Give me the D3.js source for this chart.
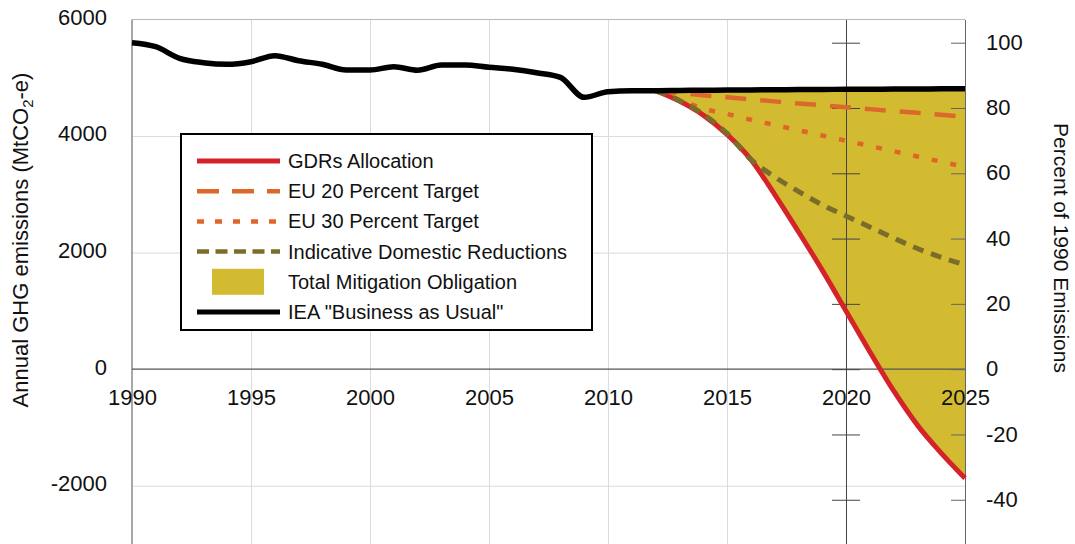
<!DOCTYPE html>
<html>
<head>
<meta charset="UTF-8">
<script src="https://d3js.org/d3.v7.min.js"></script>
<title>GDRs mitigation obligation</title>
<style>
  body { margin: 0; background: #fff; }
  text { font-family: "Liberation Sans", Arial, sans-serif; fill: #111; }
  .grid line { stroke: #dcdcdc; stroke-width: 1; }
  .grid .domain { display: none; }
</style>
</head>
<body>
<div id="chart"></div>
<script>
// historic + IEA business-as-usual, 1990-2025 (MtCO2-e)
var bauYears = [1990,1991,1992,1993,1994,1995,1996,1997,1998,1999,2000,2001,2002,2003,2004,2005,2006,2007,
                2008,2009,2010,2011,2012,2013,2014,2015,2016,2017,2018,2019,2020,2021,2022,2023,2024,2025]
var bau = [5602,5533,5334,5259,5231,5276,5379,5293,5231,5133,5133,5190,5130,5219,5219,5179,5145,5087,
           5007,4664,4761,4778,4778,4782,4786,4789,4792,4795,4798,4800,4802,4804,4806,4808,4810,4812]

// projections 2012-2025
var projYears = [2012,2013,2014,2015,2016,2017,2018,2019,2020,2021,2022,2023,2024,2025]
var gdrs       = [4778,4600,4360,4030,3600,3000,2360,1700,1000,300,-370,-960,-1440,-1870]
var eu20       = [4778,4740,4700,4665,4630,4595,4560,4528,4495,4462,4430,4398,4365,4333]
var eu30       = [4778,4620,4470,4380,4280,4190,4100,4010,3920,3830,3740,3650,3560,3470]
var indicative = [4778,4610,4375,4045,3600,3300,3050,2820,2630,2440,2250,2070,1920,1790]

var xTicks = [1990,1995,2000,2005,2010,2015,2020,2025]
var yTicks = [-2000,0,2000,4000,6000]
var pctTicks = [-40,-20,0,20,40,60,80,100]

var legendLabels = ["GDRs Allocation","EU 20 Percent Target","EU 30 Percent Target",
                    "Indicative Domestic Reductions","Total Mitigation Obligation","IEA \"Business as Usual\""]

var width = 1075, height = 544
var margin = {left:132, right:110, top:19.5, bottom:0}
var w = width - margin.left - margin.right, h = height - margin.top - margin.bottom

var col = {fill:"#d2bb31", red:"#d42429", eu20:"#dc682b", eu30:"#e0652a", olive:"#7b6c2c"}
var plain = function(d){ return String(d) }  // hyphen minus like the original

var x = d3.scaleLinear().domain([1990,2025]).range([0,w])
var y = d3.scaleLinear().domain([-3000,6000]).range([h,0])
var base = bau[0]
var yPct = d3.scaleLinear().domain([-3000/base*100, 6000/base*100]).range([h,0])

var svg = d3.select("#chart").append("svg").attr("width",width).attr("height",height)
var g = svg.append("g").attr("transform","translate("+margin.left+","+margin.top+")")

// light grid
g.append("g").attr("class","grid")
  .call(d3.axisBottom(x).tickValues([1995,2000,2005,2010,2015]).tickSize(h).tickFormat(""))
g.append("g").attr("class","grid")
  .call(d3.axisLeft(y).tickValues([-2000,2000,4000]).tickSize(-w).tickFormat(""))

// borders
g.append("line").attr("x1",0).attr("x2",w).attr("y1",0).attr("y2",0).attr("stroke","#b8b8b8")
g.append("line").attr("x1",0).attr("x2",0).attr("y1",0).attr("y2",h).attr("stroke","#8a8a8a").attr("stroke-width",1.5)

// mitigation area between BAU and GDRs
var proj = projYears.map(function(yr,i){
  return {year:yr, bau:bau[bauYears.indexOf(yr)], gdrs:gdrs[i], eu20:eu20[i], eu30:eu30[i], ind:indicative[i]}
})
var area = d3.area().x(function(d){return x(d.year)})
  .y0(function(d){return y(d.bau)}).y1(function(d){return y(d.gdrs)})
  .curve(d3.curveMonotoneX)
g.append("path").attr("d",area(proj)).attr("fill",col.fill)

// zero line, 2020 axis, right axis lines
g.append("line").attr("x1",0).attr("x2",w).attr("y1",y(0)).attr("y2",y(0)).attr("stroke","#555").attr("stroke-width",1.2)

var mid = g.append("g").attr("transform","translate("+x(2020)+",0)")
mid.append("g").call(d3.axisRight(yPct).tickValues(pctTicks).tickSize(14).tickFormat("").tickSizeOuter(0))
mid.append("g").call(d3.axisLeft(yPct).tickValues(pctTicks).tickSize(14).tickFormat("").tickSizeOuter(0))
mid.selectAll("path,line").attr("stroke","#444").attr("stroke-width",1)

var right = g.append("g").attr("transform","translate("+w+",0)")
  .call(d3.axisRight(yPct).tickValues(pctTicks).tickSize(-14).tickSizeOuter(0).tickPadding(21).tickFormat(plain))
right.selectAll("path,line").attr("stroke","#666").attr("stroke-width",1)
right.selectAll("text").attr("font-size",22).attr("dy","0.3em")

// series lines
function lineOf(key){
  return d3.line().x(function(d){return x(d.year)}).y(function(d){return y(d[key])}).curve(d3.curveMonotoneX)
}
g.append("path").attr("d",lineOf("gdrs")(proj)).attr("fill","none").attr("stroke",col.red).attr("stroke-width",5)
g.append("path").attr("d",lineOf("eu20")(proj)).attr("fill","none").attr("stroke",col.eu20).attr("stroke-width",4.5).attr("stroke-dasharray","21,14")
g.append("path").attr("d",lineOf("eu30")(proj)).attr("fill","none").attr("stroke",col.eu30).attr("stroke-width",4.5).attr("stroke-dasharray","6,13")
g.append("path").attr("d",lineOf("ind")(proj)).attr("fill","none").attr("stroke",col.olive).attr("stroke-width",5).attr("stroke-dasharray","11,8")

var bauLine = d3.line().x(function(d,i){return x(bauYears[i])}).y(function(d){return y(d)}).curve(d3.curveMonotoneX)
g.append("path").attr("d",bauLine(bau)).attr("fill","none").attr("stroke","#000").attr("stroke-width",5.5).attr("stroke-linejoin","round")

// left and bottom axes (labels only)
var left = g.append("g").call(d3.axisLeft(y).tickValues(yTicks).tickSize(0).tickPadding(25).tickFormat(plain))
left.select(".domain").remove()
left.selectAll("text").attr("font-size",22).attr("dy","0.22em")

var bottom = g.append("g").attr("transform","translate(0,"+y(0)+")")
  .call(d3.axisBottom(x).tickValues(xTicks).tickSize(0).tickPadding(20).tickFormat(plain))
bottom.select(".domain").remove()
bottom.selectAll("text").attr("font-size",22)

// axis titles
var lt = svg.append("text").attr("transform","translate(28,240) rotate(-90)")
  .attr("text-anchor","middle").attr("font-size",22)
lt.append("tspan").text("Annual GHG emissions (MtCO")
lt.append("tspan").text("2").attr("font-size",15).attr("dy",5)
lt.append("tspan").text("-e)").attr("dy",-5)

svg.append("text").attr("transform","translate(1054,248) rotate(90)")
  .attr("text-anchor","middle").attr("font-size",21).text("Percent of 1990 Emissions")

// legend
var lg = svg.append("g").attr("transform","translate(181,134)")
lg.append("rect").attr("width",411).attr("height",196).attr("fill","#fff").attr("stroke","#000").attr("stroke-width",2)
var legendStyle = [
  {stroke:col.red, dash:null, width:5},
  {stroke:col.eu20, dash:"22,13", width:4.5},
  {stroke:col.eu30, dash:"7,11", width:4.5},
  {stroke:col.olive, dash:"12,6.5", width:4.5},
  {swatch:col.fill},
  {stroke:"#000", dash:null, width:5}
]
legendLabels.forEach(function(lab,i){
  var yy = 27 + i*30.2
  var s = legendStyle[i]
  if (s.swatch) {
    lg.append("rect").attr("x",31).attr("y",yy-13).attr("width",52).attr("height",26).attr("fill",s.swatch)
  } else {
    lg.append("line").attr("x1",16).attr("x2",99).attr("y1",yy).attr("y2",yy)
      .attr("stroke",s.stroke).attr("stroke-width",s.width).attr("stroke-dasharray",s.dash)
  }
  lg.append("text").attr("x",107).attr("y",yy).attr("dy","0.35em").attr("font-size",20).text(lab)
})
</script>
</body>
</html>
